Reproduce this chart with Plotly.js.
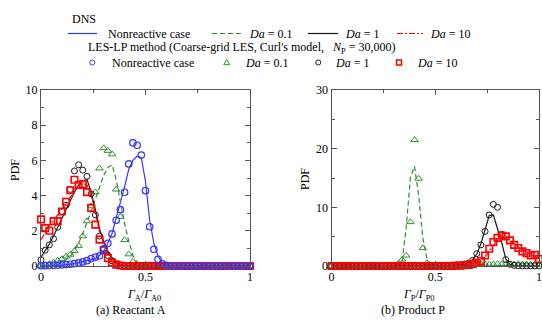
<!DOCTYPE html>
<html><head><meta charset="utf-8">
<script src="https://cdn.plot.ly/plotly-3.0.1.min.js"></script>
<style>html,body{margin:0;padding:0;background:#fff}</style>
</head><body><div id="chart" style="width:542px;height:324px"></div>
<script>
// bin centres (shared by both panels)
const gridX = [0,0.02,0.04,0.06,0.08,0.1,0.12,0.14,0.16,0.18,
  0.2,0.22,0.24,0.26,0.28,0.3,0.32,0.34,0.36,0.38,
  0.4,0.42,0.44,0.46,0.48,0.5,0.52,0.54,0.56,0.58,
  0.6,0.62,0.64,0.66,0.68,0.7,0.72,0.74,0.76,0.78,
  0.8,0.82,0.84,0.86,0.88,0.9,0.92,0.94,0.96,0.98,1];

// (a) Reactant A — DNS lines
const dnsA_nonreactive = [0,0,0.01,0.02,0.03,0.05,0.07,0.1,0.14,0.19,
  0.25,0.3,0.35,0.42,0.6,0.85,1.3,1.85,2.75,3.6,
  4.5,5.5,6.0,6.25,6.15,4.8,2.6,1.3,0.55,0.18,
  0.05,0,0,0,0,0,0,0,0,0,
  0,0,0,0,0,0,0,0,0,0,0];
const dnsA_da01 = [0,0,0.02,0.05,0.1,0.2,0.35,0.55,0.85,1.3,
  1.85,2.45,3.1,3.8,4.5,5.15,5.6,5.75,4.9,3.6,
  2.4,1.4,0.6,0.2,0.05,0.01,0,0,0,0,
  0,0,0,0,0,0,0,0,0,0,
  0,0,0,0,0,0,0,0,0,0,0];
const dnsA_da1 = [0.5,0.85,1.25,1.7,2.2,2.7,3.2,3.7,4.2,4.6,
  4.85,4.9,4.2,3.2,2.1,1.4,0.85,0.45,0.15,0.05,
  0.01,0,0,0,0,0,0,0,0,0,
  0,0,0,0,0,0,0,0,0,0,
  0,0,0,0,0,0,0,0,0,0,0];
const dnsA_da10 = [1.5,1.9,2.3,2.6,2.9,3.2,3.55,3.9,4.3,4.6,
  4.7,4.6,4.0,3.0,2.0,1.3,0.75,0.4,0.15,0.05,
  0.01,0,0,0,0,0,0,0,0,0,
  0,0,0,0,0,0,0,0,0,0,
  0,0,0,0,0,0,0,0,0,0,0];
// (a) Reactant A — LES-LP symbols
const lesA_nonreactive = [0.02,0.02,0.03,0.04,0.05,0.06,0.08,0.1,0.13,0.18,
  0.23,0.3,0.42,0.5,0.58,0.95,1.29,1.82,2.6,3.2,
  4.19,5.8,7.0,6.86,6.3,4.28,2.23,0.95,0.38,0.12,
  0.03,0,0,0,0,0,0,0,0,0,
  0,0,0,0,0,0,0,0,0,0,0];
const lesA_da01 = [0.02,0.05,0.12,0.2,0.3,0.4,0.55,0.65,0.85,1.15,
  1.7,2.55,3.4,4.2,5.55,6.7,6.55,6.35,4.35,2.8,
  1.48,0.67,0.25,0.08,0.03,0,0,0,0,0,
  0,0,0,0,0,0,0,0,0,0,
  0,0,0,0,0,0,0,0,0,0,0];
const lesA_da1 = [0.35,0.9,1.2,1.55,2.2,3.1,3.45,4.35,5.4,5.75,
  5.45,5.1,4.1,2.9,1.7,1.0,0.6,0.3,0.12,0.04,
  0.01,0,0,0,0,0,0,0,0,0,
  0,0,0,0,0,0,0,0,0,0,
  0,0,0,0,0,0,0,0,0,0,0];
const lesA_da10 = [2.65,2.15,2.0,2.55,2.55,3.1,3.65,4.3,4.9,4.6,
  4.65,4.2,3.3,2.35,1.5,0.9,0.45,0.2,0.08,0.03,
  0,0,0,0,0,0,0,0,0,0,
  0,0,0,0,0,0,0,0,0,0,
  0,0,0,0,0,0,0,0,0,0,0];

// (b) Product P — DNS lines
const dnsP_da01 = [0,0,0,0,0,0,0,0,0,0,
  0,0,0,0,0,0.05,0.2,0.8,6.5,15.0,
  17.0,12.0,4.8,1.2,0.2,0.05,0,0,0,0,
  0,0,0,0,0,0,0,0,0,0,
  0,0,0,0,0,0,0,0,0,0,0];
const dnsP_da1 = [0,0,0,0,0,0,0,0,0,0,
  0,0,0,0,0,0,0,0,0,0,
  0,0,0,0,0,0,0.01,0.01,0.02,0.03,
  0.04,0.1,0.25,0.55,1.1,2.0,3.8,6.4,8.6,8.7,
  6.5,4.0,1.2,0.25,0.05,0.01,0,0,0,0,0];
const dnsP_da10 = [0,0,0,0,0,0,0,0,0,0,
  0,0,0,0,0,0,0,0,0,0,
  0,0,0,0,0,0,0,0,0,0,
  0.03,0.06,0.1,0.18,0.3,0.5,0.9,1.6,2.6,3.6,
  4.4,4.8,4.8,4.4,3.8,3.2,2.7,2.3,1.9,1.6,1.3];
// (b) Product P — LES-LP symbols
const lesP_da01 = [0,0,0,0,0,0,0,0,0,0,
  0,0,0,0,0,0.1,0.3,1.1,1.8,7.5,
  21.5,14.9,3.06,0.5,0.1,0.05,0.1,0.1,0.15,0.2,
  0.3,0.25,0.35,0.3,0.4,0.3,0.35,0.3,0.25,0.3,
  0.35,0.3,0.3,0.25,0.3,0.35,0.3,0.3,0.25,0.3,0.3];
const lesP_da1 = [0,0,0,0,0,0,0,0,0,0,
  0,0,0,0,0,0,0,0,0,0,
  0,0,0,0,0,0,0,0,0,0,
  0.05,0.1,0.25,0.5,0.96,2.1,3.6,5.9,8.7,10.5,
  10.0,5.4,1.1,0.3,0.1,0.05,0.02,0.02,0.02,0.02,0.02];
const lesP_da10 = [0,0,0,0,0,0,0,0,0,0,
  0,0,0,0,0,0,0,0,0,0,
  0,0,0,0,0,0,0,0,0,0,
  0.03,0.06,0.12,0.2,0.3,0.5,0.85,1.8,2.95,4.1,
  4.8,5.2,5.05,4.37,3.6,3.06,2.5,2.2,1.8,1.9,1.2];

// legend labels
const names = ['Nonreactive case', '<i>Da</i> = 0.1', '<i>Da</i> = 1', '<i>Da</i> = 10'];
const dnsTitle = 'DNS';
const lesTitle = "LES-LP method (Coarse-grid LES, Curl's model,\u00a0\u00a0 <i>N</i><sub>P</sub> = 30,000)";

const FONT = '"Liberation Serif", "Times New Roman", Times, serif';
const C = {blue:'#3535ff', green:'#2f8f2f', black:'#1a1a1a', red:'#ff0000'};
const DASH = {solid:'solid', dash:'5px,3px', dashdot:'6px,2px,2px,2px'};

function lineTr(y, xa, ya, color, dash, name){
  return {x: gridX, y: y, xaxis: xa, yaxis: ya, type:'scatter', mode:'lines',
    line:{color:color, width:1.2, dash:DASH[dash]}, name:name, showlegend:false, cliponaxis:false};
}
function markTr(y, xa, ya, color, symbol, size, lw, name){
  return {x: gridX, y: y, xaxis: xa, yaxis: ya, type:'scatter', mode:'markers',
    marker:{symbol:symbol, size:size, color:color, line:{color:color, width:lw}},
    name:name, showlegend:false, cliponaxis:false};
}

const traces = [
  lineTr(dnsA_nonreactive,'x','y',C.blue,'solid',names[0]),
  lineTr(dnsA_da01,'x','y',C.green,'dash',names[1]),
  lineTr(dnsA_da1,'x','y',C.black,'solid',names[2]),
  lineTr(dnsA_da10,'x','y',C.red,'dashdot',names[3]),
  markTr(lesA_da01,'x','y',C.green,'triangle-up-open',6.5,1,names[1]),
  markTr(lesA_da1,'x','y',C.black,'circle-open',6,1,names[2]),
  markTr(lesA_da10,'x','y',C.red,'square-open',6.5,1.6,names[3]),
  markTr(lesA_nonreactive,'x','y',C.blue,'circle-open',6.5,1.2,names[0]),

  lineTr(dnsP_da01,'x2','y2',C.green,'dash',names[1]),
  lineTr(dnsP_da1,'x2','y2',C.black,'solid',names[2]),
  lineTr(dnsP_da10,'x2','y2',C.red,'dashdot',names[3]),
  markTr(lesP_da01,'x2','y2',C.green,'triangle-up-open',6.5,1,names[1]),
  markTr(lesP_da1,'x2','y2',C.black,'circle-open',6,1,names[2]),
  markTr(lesP_da10,'x2','y2',C.red,'square-open',6.5,1.6,names[3])
];

const AX = '#555';
function xax(domain, anchor){
  return {domain:domain, anchor:anchor, range:[0,1], showgrid:false, zeroline:false,
    showline:true, mirror:'ticks', linecolor:AX, linewidth:1,
    ticks:'inside', ticklen:5, tickwidth:1, tickcolor:AX,
    tickvals:[0,0.5,1], ticktext:['0','0.5','1'],
    minor:{ticks:'inside', ticklen:3, tickcolor:AX, tickvals:[0.25,0.75]},
    tickfont:{family:FONT, size:12, color:'#000'}, fixedrange:true};
}
function yax(range, dtick, mdtick, anchor){
  return {range:range, anchor:anchor, showgrid:false, zeroline:false,
    showline:true, mirror:'ticks', linecolor:AX, linewidth:1,
    ticks:'inside', ticklen:5, tickwidth:1, tickcolor:AX, dtick:dtick, tick0:0,
    minor:{ticks:'inside', ticklen:3, tickcolor:AX, dtick:mdtick, tick0:0},
    tickfont:{family:FONT, size:12, color:'#000'}, fixedrange:true};
}

// paper-coordinate helpers for the hand-made legend (margins l=41, t=90, plot 499x176)
const PX = px => (px - 41) / 499;
const PY = py => (266 - py) / 176;

const ann = (text, x, y, extra) => Object.assign({text:text, x:x, y:y, xref:'paper', yref:'paper',
  xanchor:'center', yanchor:'middle', showarrow:false, font:{family:FONT, size:12, color:'#000'}}, extra || {});

// legend row 1: DNS line samples [x0, x1, textX]
const row1Y = 33.5;
const row1 = [[68,97,106],[212,241,247],[308,338,343],[397,423,428]];
const row1Style = [['solid',C.blue],['dash',C.green],['solid',C.black],['dashdot',C.red]];
// legend row 2: LES symbols [markerX, textX]
const row2Y = 62.5;
const row2 = [[92.3,110],[226.7,242.7],[318.3,333.3],[399,415]];

const shapes = [];
const annotations = [
  ann(dnsTitle, PX(70), PY(18.5), {xanchor:'left'}),
  ann(lesTitle, PX(86), PY(48.5), {xanchor:'left'}),
  ann('PDF', PX(15), PY(170), {textangle:-90}),
  ann('PDF', PX(305), PY(179), {textangle:-90}),
  ann('<i>Γ</i><sub>A</sub>/<i>Γ</i><sub>A0</sub>', PX(144), PY(295)),
  ann('<i>Γ</i><sub>P</sub>/<i>Γ</i><sub>P0</sub>', PX(419), PY(295)),
  ann('(a) Reactant A', PX(131), PY(310)),
  ann('(b) Product P', PX(413), PY(310))
];
row1.forEach((r, i) => {
  shapes.push({type:'line', xref:'paper', yref:'paper', x0:PX(r[0]), x1:PX(r[1]), y0:PY(row1Y), y1:PY(row1Y),
    line:{color:row1Style[i][1], width:1.2, dash:DASH[row1Style[i][0]]}});
  annotations.push(ann(names[i], PX(r[2]), PY(row1Y), {xanchor:'left'}));
});
const symColors = [C.blue, C.green, C.black, C.red];
row2.forEach((r, i) => {
  const base = {xref:'paper', yref:'paper', xsizemode:'pixel', ysizemode:'pixel',
    xanchor:PX(r[0]), yanchor:PY(row2Y), line:{color:symColors[i], width: i===3 ? 1.5 : 1}, fillcolor:'rgba(0,0,0,0)'};
  if (i === 0 || i === 2) shapes.push(Object.assign({type:'circle', x0:-2.5, x1:2.5, y0:-2.5, y1:2.5}, base));
  else if (i === 3) shapes.push(Object.assign({type:'rect', x0:-2.5, x1:2.5, y0:-2.5, y1:2.5}, base));
  else shapes.push(Object.assign({type:'path', path:'M-3,-2.2 L3,-2.2 L0,3 Z'}, base));
  annotations.push(ann(names[i], PX(r[1]), PY(row2Y), {xanchor:'left'}));
});

const layout = {
  width:542, height:324, margin:{l:41, r:2, t:90, b:58},
  paper_bgcolor:'#fff', plot_bgcolor:'#fff', showlegend:false,
  font:{family:FONT, size:12, color:'#000'},
  xaxis: xax([0,0.4188],'y'),
  yaxis: yax([0,10],2,1,'x'),
  xaxis2: xax([0.5822,0.998],'y2'),
  yaxis2: yax([0,30],10,5,'x2'),
  shapes: shapes,
  annotations: annotations
};

Plotly.newPlot('chart', traces, layout, {displayModeBar:false, staticPlot:true});
</script>
</body></html>
